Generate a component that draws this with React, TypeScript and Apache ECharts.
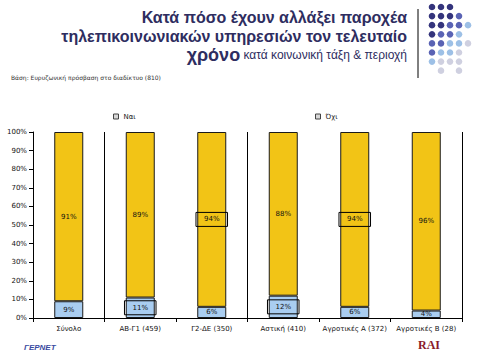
import React, { useEffect, useRef } from "react";
import * as echarts from "echarts";

const categories = ["Σύνολο", "ΑΒ-Γ1 (459)", "Γ2-ΔΕ (350)", "Αστική (410)", "Αγροτικές Α (372)", "Αγροτικές Β (28)"];
const yesValues = [9, 11, 6, 12, 6, 4];
const noValues = [91, 89, 94, 88, 94, 96];
const yesBoxed = [false, true, false, true, false, false];
const noBoxed = [false, false, true, false, true, false];
const seriesNames = ["Ναι", "Όχι"];

const dotRows: string[][] = [
  ["d", "d", "d"],
  ["d", "d", "d", "m"],
  ["d", "d", "m", "m", "l"],
  ["d", "m", "m", "l"],
  ["m", "m", "l", "l", "g"],
  ["m", "l", "l", "g"],
  ["l", "g", "g", "g"],
  ["", "g", "", "g"],
];

export default function App() {
  const ref = useRef<HTMLDivElement>(null);
  useEffect(() => {
    const chart = echarts.init(ref.current!, undefined, { renderer: "svg" });
    const font = "DejaVu Sans";
    const dotColors: Record<string, string> = { d: "#34347c", m: "#5a63b4", l: "#9dc0e6", g: "#cfd0e0" };
    const dots: any[] = [];
    dotRows.forEach((row, r) => {
      row.forEach((c, k) => {
        if (!c) return;
        dots.push({
          type: "circle",
          shape: { cx: 432 + k * 9, cy: 7 + r * 9.1, r: 3.3 },
          style: { fill: dotColors[c] },
        });
      });
    });
    const mkLabel = (boxed: boolean) =>
      boxed
        ? { show: true, borderColor: "#000", borderWidth: 1, padding: [4, 8, 3, 8] }
        : { show: true };
    const legendCommon = {
      top: 108,
      icon: "rect",
      itemWidth: 5,
      itemHeight: 5,
      itemGap: 3,
      textStyle: { fontSize: 7, color: "#222", fontFamily: font },
      itemStyle: { color: "#d8d8d8", borderColor: "#444", borderWidth: 1 },
    };
    chart.setOption({
      animation: false,
      backgroundColor: "#ffffff",
      textStyle: { fontFamily: font },
      grid: { left: 33, right: 18, top: 132, bottom: 42, containLabel: false },
      legend: [
        { ...legendCommon, data: [seriesNames[0]], left: 108 },
        { ...legendCommon, data: [seriesNames[1]], left: 310 },
      ],
      xAxis: {
        type: "category",
        data: categories,
        axisLine: { lineStyle: { color: "#000", width: 1 } },
        axisTick: { show: true, length: 4, lineStyle: { color: "#000" } },
        axisLabel: { fontSize: 7, color: "#111", margin: 7, fontFamily: font, interval: 0 },
        splitLine: {
          show: true,
          interval: (i: number) => i === 1 || i === 3,
          lineStyle: { color: "#000", width: 1, type: "solid" },
        },
      },
      yAxis: {
        type: "value",
        min: 0,
        max: 100,
        interval: 10,
        axisLine: { show: true, lineStyle: { color: "#000", width: 1 } },
        axisTick: { show: true, length: 4, lineStyle: { color: "#000" } },
        axisLabel: { formatter: "{value}%", fontSize: 7, color: "#111", margin: 6, fontFamily: font },
        splitLine: { show: false },
      },
      series: [
        {
          name: seriesNames[0],
          type: "bar",
          stack: "t",
          barWidth: 29,
          itemStyle: { color: "#a9cdf0", borderColor: "#1a1a1a", borderWidth: 1 },
          label: { show: true, position: "inside", formatter: "{c}%", fontSize: 7, color: "#111", fontFamily: font },
          data: yesValues.map((v, i) => ({ value: v, label: mkLabel(yesBoxed[i]) })),
        },
        {
          name: seriesNames[1],
          type: "bar",
          stack: "t",
          barWidth: 29,
          itemStyle: { color: "#f2c416", borderColor: "#1a1a1a", borderWidth: 1 },
          label: { show: true, position: "inside", formatter: "{c}%", fontSize: 7, color: "#111", fontFamily: font },
          data: noValues.map((v, i) => ({ value: v, label: mkLabel(noBoxed[i]) })),
        },
      ],
      graphic: [
        {
          type: "text",
          x: 407,
          y: 17,
          style: {
            text: "Κατά πόσο έχουν αλλάξει παροχέα",
            font: "bold 16px 'Liberation Sans'",
            fill: "#2e2d60",
            align: "right",
            verticalAlign: "middle",
          },
        },
        {
          type: "text",
          x: 407,
          y: 36,
          style: {
            text: "τηλεπικοινωνιακών υπηρεσιών τον τελευταίο",
            font: "bold 16px 'Liberation Sans'",
            fill: "#2e2d60",
            align: "right",
            verticalAlign: "middle",
          },
        },
        {
          type: "text",
          x: 407,
          y: 55,
          style: {
            text: "{a|χρόνο} {b|κατά κοινωνική τάξη & περιοχή}",
            rich: {
              a: { fontSize: 18, fontWeight: "bold", fontFamily: "Liberation Sans", fill: "#2e2d60" },
              b: { fontSize: 12, fontFamily: "Liberation Sans", fill: "#2e2d60" },
            },
            align: "right",
            verticalAlign: "middle",
          },
        },
        {
          type: "line",
          shape: { x1: 418, y1: 9, x2: 418, y2: 78 },
          style: { stroke: "#000", lineWidth: 1 },
        },
        ...dots,
        {
          type: "text",
          x: 11,
          y: 77,
          style: {
            text: "Βάση: Ευρυζωνική πρόσβαση στο διαδίκτυο (810)",
            font: "6px 'DejaVu Sans'",
            fill: "#333",
            verticalAlign: "middle",
          },
        },
        {
          type: "text",
          x: 24,
          y: 347,
          style: {
            text: "ΓΕΡΝΕΤ",
            font: "italic bold 8px 'Liberation Sans'",
            fill: "#3a4aa0",
            verticalAlign: "middle",
          },
        },
        {
          type: "text",
          x: 418,
          y: 345,
          style: {
            text: "RAI",
            font: "bold 12px 'Liberation Serif'",
            fill: "#8a1a2a",
            verticalAlign: "middle",
          },
        },
      ],
    });
    return () => chart.dispose();
  }, []);
  return <div ref={ref} style={{ position: "fixed", left: 0, top: 0, width: 480, height: 360 }} />;
}
